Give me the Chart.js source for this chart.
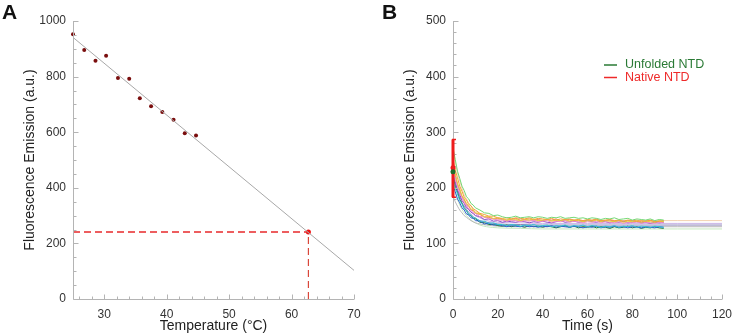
<!DOCTYPE html>
<html>
<head>
<meta charset="utf-8">
<script src="https://cdn.jsdelivr.net/npm/chart.js@4.4.1/dist/chart.umd.min.js"></script>
<style>
body{margin:0;background:#fff;width:740px;height:335px;overflow:hidden;position:relative;font-family:"Liberation Sans",Arial,sans-serif}
.panel{position:absolute;top:0;width:370px;height:335px}
.tag{position:absolute;top:0;font-weight:bold;font-size:21px;color:#111}
</style>
</head>
<body>
<div class="panel" style="left:0"><canvas id="chartA" width="370" height="335"></canvas></div>
<div class="panel" style="left:370px"><canvas id="chartB" width="370" height="335"></canvas></div>
<div class="tag" style="left:2px">A</div>
<div class="tag" style="left:382px">B</div>
<script>
// ---- panel A : emission vs temperature ----
const tempC = [25, 26.8, 28.6, 30.3, 32.2, 34.0, 35.7, 37.5, 39.3, 41.1, 42.9, 44.7];
const emission = [952, 896, 857, 875, 795, 792, 722, 693, 673, 645, 596, 588];
const fitTemp = [25, 70];
const fitEmission = [941, 103];
const readTemp = 62.7;
const readEmission = 241;

// ---- panel B : kinetics traces ----
const time = [0,1,2,3,4,5,6,7,8,9,10,12,14,16,18,20,22,24,26,28,30,32,34,36,38,40,42,44,46,48,50,52,54,56,58,60,62,64,66,68,70,72,74,76,78,80,82,84,86,88,90,92,94];
const trace1 = [272,251,230,217,203,195,184,180,172,169,164,
  160,155,154,150,151,148,146,147,149,146,147,148,146,148,147,145,147,146,148,145,
  146,147,145,146,144,146,145,143,145,144,146,143,144,145,142,144,143,142,144,141,143,142];
const trace2 = [252,232,218,203,194,183,178,170,168,162,160,
  154,152,149,149,146,145,146,144,146,145,144,146,143,145,144,143,145,142,144,143,
  144,142,143,141,143,142,144,141,142,143,141,142,140,142,141,139,141,140,142,139,140,141];
const trace3 = [242,225,208,198,186,180,172,168,162,160,155,
  153,148,148,145,146,144,142,144,143,141,143,142,144,141,142,143,140,142,141,143,
  140,142,141,139,141,140,142,139,141,140,139,141,138,140,139,141,138,140,139,138,140,139];
const trace4 = [232,215,203,190,183,173,169,162,160,155,154,
  148,148,144,144,142,142,140,142,141,139,141,140,142,139,140,141,138,140,139,141,
  138,140,139,137,139,138,140,137,139,138,137,139,136,138,137,139,136,138,137,136,138,137];
const trace5 = [226,211,196,188,177,172,164,161,156,154,150,
  148,143,144,140,141,138,140,139,138,140,139,137,139,138,140,138,137,139,141,138,
  139,140,138,139,141,139,138,140,139,137,139,138,140,137,138,139,137,138,136,138,137,138];
const trace6 = [214,199,189,177,171,162,159,153,151,146,146,
  140,140,136,137,134,134,132,134,133,131,133,132,134,131,132,133,130,132,131,133,
  130,132,131,133,130,132,131,129,131,130,132,129,131,130,132,129,131,130,129,131,130,129];
const trace7 = [205,193,180,173,164,160,153,151,146,145,141,
  140,135,136,133,134,132,130,132,131,130,132,130,131,129,131,130,132,129,131,130,
  129,131,130,128,130,129,131,128,130,129,131,129,130,128,130,129,128,130,129,128,130,129];
const trace8 = [220,203,192,179,172,163,159,152,150,145,144,
  138,137,134,134,132,131,133,130,132,131,129,132,130,131,129,131,130,128,130,132,
  129,131,128,130,129,131,128,130,129,127,130,128,129,131,128,130,127,129,128,130,128,127];
const trace9 = [238,222,205,196,184,178,170,167,160,159,154,
  152,147,147,144,145,143,142,143,145,142,143,144,142,143,141,143,142,144,141,142,
  143,141,142,140,142,141,143,140,141,142,140,141,139,141,140,142,139,140,141,139,140,139];
const traces = [trace1, trace2, trace3, trace4, trace5, trace6, trace7, trace8, trace9];
const traceColors = ['#74d874','#f2a03c','#e3cf3a','#f08cc8','#8e4fc6','#35c3d6','#2f5fd0','#1f7a3a','#f07a6a'];

const fitTime = [0,1,2,3,4,5,6,8,10,12,15,20,30,40,60,80,100,120];
const fit1 = [270,247,227,212,199,188,180,167,158,153,147,143,141,141,141,141,141,141];
const fit2 = [240,221,206,193,183,174,167,157,150,146,141,138,137,136,136,136,136,136];
const fit3 = [225,208,195,184,174,167,161,152,145,141,138,135,134,133,133,133,133,133];
const fit4 = [185,175,167,160,155,150,147,141,137,135,133,131,130,130,130,130,130,130];
const fit5 = [205,191,179,169,161,155,150,142,137,133,130,128,127,126,126,126,126,126];
const fits = [fit1, fit2, fit3, fit4, fit5];
const fitColors = ['#f3d2b0','#c9b3e6','#8c84b8','#b8b8b8','#c6e8c0'];

const nativeMean = 236, nativeLow = 183, nativeHigh = 287;
const unfoldedMean = 229;
const legendItems = [['Unfolded NTD', '#2a7a35'], ['Native NTD', '#ee2a2a']];

Chart.defaults.font.family = '"Liberation Sans", Arial, sans-serif';
Chart.defaults.color = '#333';

// inward ticks + axis lines drawn off the chart's own scales
const innerTicks = {
  id: 'innerTicks',
  afterDraw(chart, args, opts) {
    const ctx = chart.ctx, x = chart.scales.x, y = chart.scales.y, a = chart.chartArea;
    ctx.save();
    ctx.strokeStyle = '#b4b4b4';
    ctx.lineWidth = 1;
    ctx.beginPath();
    const bx = Math.round(a.left) + 0.5, by = Math.round(a.bottom) + 0.5;
    ctx.moveTo(bx, Math.round(a.top)); ctx.lineTo(bx, by); ctx.lineTo(Math.round(a.right), by);
    for (let v = Math.ceil(x.min / opts.xMinor) * opts.xMinor; v <= x.max + 1e-6; v += opts.xMinor) {
      const px = Math.round(x.getPixelForValue(v)) + 0.5;
      const len = Math.abs(v % opts.xMajor) < 1e-6 ? 5 : 3;
      ctx.moveTo(px, by); ctx.lineTo(px, by - len);
    }
    for (let v = Math.ceil(y.min / opts.yMinor) * opts.yMinor; v <= y.max + 1e-6; v += opts.yMinor) {
      const py = Math.round(y.getPixelForValue(v)) + 0.5;
      const len = Math.abs(v % opts.yMajor) < 1e-6 ? 5 : 3;
      ctx.moveTo(bx, py); ctx.lineTo(bx + len, py);
    }
    ctx.stroke();
    ctx.restore();
  }
};

// error bar at t = 0 and the small legend of panel B
const errorLegend = {
  id: 'errorLegend',
  afterDraw(chart, args, opts) {
    if (!opts.on) return;
    const ctx = chart.ctx, x = chart.scales.x, y = chart.scales.y;
    const px = x.getPixelForValue(0);
    ctx.save();
    ctx.strokeStyle = '#ee1c1c';
    ctx.lineWidth = 3;
    ctx.beginPath();
    ctx.moveTo(px, y.getPixelForValue(nativeLow)); ctx.lineTo(px, y.getPixelForValue(nativeHigh));
    ctx.stroke();
    ctx.lineWidth = 1.5;
    ctx.beginPath();
    [nativeLow, nativeHigh].forEach(v => {
      const py = y.getPixelForValue(v);
      ctx.moveTo(px - 1, py); ctx.lineTo(px + 3, py);
    });
    ctx.stroke();
    ctx.fillStyle = '#ee1c1c';
    ctx.beginPath(); ctx.arc(px, y.getPixelForValue(nativeMean), 2.5, 0, Math.PI * 2); ctx.fill();
    ctx.fillStyle = '#1f6e2a';
    ctx.beginPath(); ctx.arc(px, y.getPixelForValue(unfoldedMean), 2.5, 0, Math.PI * 2); ctx.fill();

    ctx.font = '12.5px "Liberation Sans", Arial, sans-serif';
    ctx.textBaseline = 'middle';
    legendItems.forEach((it, i) => {
      const ly = 65 + i * 12.5;
      ctx.strokeStyle = it[1];
      ctx.lineWidth = 1.5;
      ctx.beginPath(); ctx.moveTo(234, ly); ctx.lineTo(247, ly); ctx.stroke();
      ctx.fillStyle = it[1];
      ctx.fillText(it[0], 255, ly);
    });
    ctx.restore();
  }
};

function axisOpts(min, max, step, title, isY, width, titleShift) {
  return {
    type: 'linear', min: min, max: max,
    grid: { display: false, drawTicks: false },
    border: { display: false },
    ticks: { stepSize: step, padding: isY ? 7 : 8, font: { size: 12 }, color: '#333', callback: v => String(v) },
    title: { display: true, text: title, font: { size: 14 }, color: '#222', padding: isY ? { top: titleShift, bottom: 4 } : { top: 2, bottom: 0 } },
    afterFit: s => { if (isY) s.width = width; else s.height = 36; }
  };
}

const xA = axisOpts(25, 70, 10, 'Temperature (\u00B0C)', false);
xA.afterBuildTicks = s => { s.ticks = s.ticks.filter(t => t.value % 10 === 0); };

new Chart(document.getElementById('chartA'), {
  type: 'scatter',
  data: {
    datasets: [
      { data: fitTemp.map((t, i) => ({ x: t, y: fitEmission[i] })), showLine: true, borderColor: '#a8a8a8', borderWidth: 1, pointRadius: 0 },
      { data: [{ x: fitTemp[0], y: readEmission }, { x: readTemp, y: readEmission }], showLine: true, borderColor: '#e8282b', borderWidth: 1.4, borderDash: [7, 4], pointRadius: 0 },
      { data: [{ x: readTemp, y: 0 }, { x: readTemp, y: readEmission }], showLine: true, borderColor: '#d9473a', borderWidth: 1.2, borderDash: [7, 4], pointRadius: 0 },
      { data: tempC.map((t, i) => ({ x: t, y: emission[i] })), pointRadius: 2, pointBackgroundColor: '#7a0e0e', pointBorderWidth: 0 },
      { data: [{ x: readTemp, y: readEmission }], pointRadius: 2.5, pointBackgroundColor: '#f01010', pointBorderWidth: 0 }
    ]
  },
  options: {
    responsive: false, animation: false, clip: false,
    layout: { padding: { top: 21, right: 16, left: 0, bottom: 0 } },
    plugins: { legend: { display: false }, tooltip: { enabled: false },
      innerTicks: { xMinor: 2, xMajor: 10, yMinor: 50, yMajor: 200 }, errorLegend: { on: false } },
    scales: {
      x: xA,
      y: axisOpts(0, 1000, 200, 'Fluorescence Emission (a.u.)', true, 73, 22)
    }
  },
  plugins: [innerTicks, errorLegend]
});

const setsB = [];
traces.forEach((tr, k) => {
  setsB.push({ data: time.map((t, i) => ({ x: t, y: tr[i] })), showLine: true, borderColor: traceColors[k], borderWidth: 1, pointRadius: 0 });
});
fits.forEach((f, k) => {
  setsB.push({ data: fitTime.map((t, i) => ({ x: t, y: f[i] })), showLine: true, borderColor: fitColors[k], borderWidth: 1, pointRadius: 0, cubicInterpolationMode: 'monotone' });
});

new Chart(document.getElementById('chartB'), {
  type: 'scatter',
  data: { datasets: setsB },
  options: {
    responsive: false, animation: false, clip: false,
    layout: { padding: { top: 21, right: 13, left: 0, bottom: 0 } },
    plugins: { legend: { display: false }, tooltip: { enabled: false },
      innerTicks: { xMinor: 5, xMajor: 20, yMinor: 20, yMajor: 100 }, errorLegend: { on: true } },
    scales: {
      x: axisOpts(0, 120, 20, 'Time (s)', false),
      y: axisOpts(0, 500, 100, 'Fluorescence Emission (a.u.)', true, 83, 32)
    }
  },
  plugins: [innerTicks, errorLegend]
});
</script>
</body>
</html>
